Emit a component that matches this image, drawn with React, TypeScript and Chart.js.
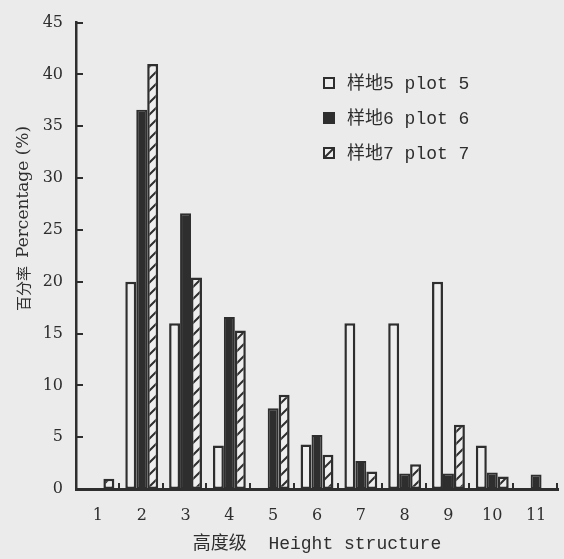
import React, { useEffect, useRef } from "react";
import { Chart, registerables } from "chart.js";

Chart.register(...registerables);

const categories = ["1", "2", "3", "4", "5", "6", "7", "8", "9", "10", "11"];
const plot5 = [null, 20, 16, 4.2, null, 4.3, 16, 16, 20, 4.2, null];
const plot6 = [null, 36.6, 26.6, 16.6, 7.8, 5.2, 2.7, 1.5, 1.5, 1.6, 1.4];
const plot7 = [1.0, 41, 20.4, 15.3, 9.1, 3.3, 1.7, 2.4, 6.2, 1.2, null];
const legendLabels = ["样地5 plot 5", "样地6 plot 6", "样地7 plot 7"];
const yTitleCn = "百分率";
const yTitleEn = "Percentage (%)";
const xTitle = "高度级  Height structure";

const BG = "#ebebeb";
const INK = "#2e2e2e";
const OPEN = "#eeeeee";

function makeHatch(): CanvasPattern | string {
  const size = 12;
  const c = document.createElement("canvas");
  c.width = size;
  c.height = size;
  const g = c.getContext("2d");
  if (!g) return BG;
  g.fillStyle = OPEN;
  g.fillRect(0, 0, size, size);
  g.strokeStyle = INK;
  g.lineWidth = 2;
  g.beginPath();
  g.moveTo(0, size);
  g.lineTo(size, 0);
  g.moveTo(-2, 2);
  g.lineTo(2, -2);
  g.moveTo(size - 2, size + 2);
  g.lineTo(size + 2, size - 2);
  g.stroke();
  const p = g.createPattern(c, "repeat");
  return p || BG;
}

const decor = {
  id: "decor",
  beforeDraw(chart: any) {
    const ctx = chart.ctx;
    ctx.save();
    ctx.fillStyle = BG;
    ctx.fillRect(0, 0, chart.width, chart.height);
    ctx.restore();
  },
  afterDraw(chart: any) {
    const ctx = chart.ctx;
    const xs = chart.scales.x;
    const ys = chart.scales.y;
    const area = chart.chartArea;
    ctx.save();
    ctx.strokeStyle = INK;
    ctx.fillStyle = INK;
    // inner y ticks
    ctx.lineWidth = 2;
    ys.ticks.forEach((t: any) => {
      const y = Math.round(ys.getPixelForValue(t.value));
      ctx.beginPath();
      ctx.moveTo(area.left, y);
      ctx.lineTo(area.left + 7, y);
      ctx.stroke();
    });
    // x stubs at category boundaries
    const half = (xs.getPixelForValue(1) - xs.getPixelForValue(0)) / 2;
    for (let i = 0; i < categories.length; i++) {
      const x = Math.round(xs.getPixelForValue(i) + half) - 1;
      ctx.beginPath();
      ctx.moveTo(x, area.bottom);
      ctx.lineTo(x, area.bottom - 6);
      ctx.stroke();
    }
    // y title
    ctx.save();
    ctx.translate(23, 311);
    ctx.rotate(-Math.PI / 2);
    ctx.textBaseline = "middle";
    ctx.textAlign = "left";
    ctx.font = "15px 'Noto Sans CJK SC'";
    ctx.fillText(yTitleCn, 0, 0);
    ctx.font = "17px 'DejaVu Serif'";
    ctx.fillText(yTitleEn, 53, 1);
    ctx.restore();
    // legend
    const lx = 323;
    const rows = [83, 118, 153];
    ctx.font = "18px 'Liberation Mono', 'Noto Sans CJK SC'";
    ctx.textBaseline = "middle";
    rows.forEach((cy, i) => {
      const top = cy - 6;
      ctx.lineWidth = 2;
      if (i === 1) {
        ctx.fillRect(lx, top, 12, 12);
      } else {
        ctx.fillStyle = OPEN;
        ctx.fillRect(lx + 1, top + 1, 10, 10);
        ctx.fillStyle = INK;
        ctx.strokeRect(lx + 1, top + 1, 10, 10);
        if (i === 2) {
          ctx.beginPath();
          ctx.moveTo(lx + 1, top + 11);
          ctx.lineTo(lx + 11, top + 1);
          ctx.stroke();
        }
      }
      ctx.fillText(legendLabels[i], lx + 24, cy + 1);
    });
    ctx.restore();
  },
};

export default function App() {
  const ref = useRef<HTMLCanvasElement | null>(null);
  useEffect(() => {
    document.body.style.margin = "0";
    const canvas = ref.current;
    if (!canvas) return;
    const hatch = makeHatch();
    const chart = new Chart(canvas, {
      type: "bar",
      data: {
        labels: categories,
        datasets: [
          {
            label: legendLabels[0],
            data: plot5,
            backgroundColor: OPEN,
            borderColor: INK,
            borderWidth: 2.5,
            borderSkipped: false,
          },
          {
            label: legendLabels[1],
            data: plot6,
            backgroundColor: INK,
            borderColor: INK,
            borderWidth: 2,
            borderSkipped: false,
          },
          {
            label: legendLabels[2],
            data: plot7,
            backgroundColor: hatch as any,
            borderColor: INK,
            borderWidth: 2.5,
            borderSkipped: false,
          },
        ],
      },
      options: {
        animation: false,
        responsive: false,
        devicePixelRatio: 1,
        layout: { padding: { top: 15, right: 6, left: 0, bottom: 0 } },
        plugins: {
          legend: { display: false },
          tooltip: { enabled: false },
        },
        datasets: {
          bar: { categoryPercentage: 0.75, barPercentage: 1.0 },
        },
        scales: {
          x: {
            grid: { display: false, drawTicks: false },
            border: { display: true, color: INK, width: 3 },
            ticks: {
              color: INK,
              font: { family: "'DejaVu Serif'", size: 16 },
              padding: 17,
            },
            title: {
              display: true,
              text: xTitle,
              color: INK,
              font: { family: "'Liberation Mono', 'Noto Sans CJK SC'", size: 18 },
              padding: { top: 2, bottom: 4 },
            },
            afterFit(s: any) {
              s.height = 70;
            },
          },
          y: {
            min: 0,
            max: 45,
            grid: { display: false, drawTicks: false },
            border: { display: true, color: INK, width: 2.5 },
            ticks: {
              stepSize: 5,
              color: INK,
              font: { family: "'DejaVu Serif'", size: 16 },
              padding: 13,
            },
            afterFit(s: any) {
              s.width = 76;
            },
          },
        },
      },
      plugins: [decor],
    });
    return () => chart.destroy();
  }, []);
  return <canvas ref={ref} width={564} height={559} style={{ display: "block" }} />;
}
